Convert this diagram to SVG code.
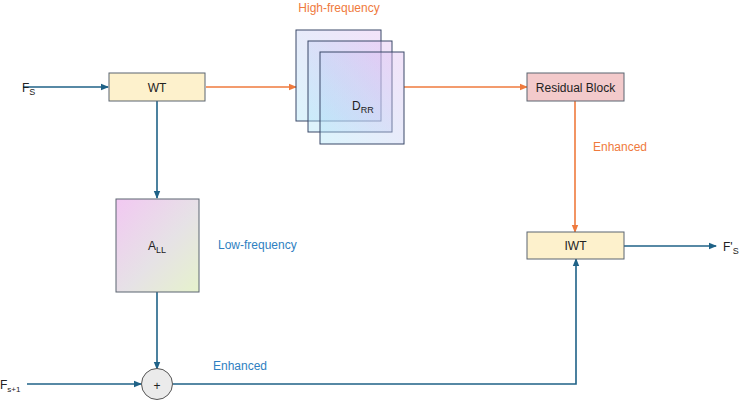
<svg xmlns="http://www.w3.org/2000/svg" width="740" height="403" viewBox="0 0 740 403">
<defs>
<style>
text{font-family:"Liberation Sans",Arial,sans-serif;font-size:12px;fill:#222}
.box{stroke:#5b6570;stroke-width:1}
.yel{fill:#fdf1cc}
.blue{stroke:#1f6287;stroke-width:1.6;fill:none}
.orange{stroke:#ef7a3d;stroke-width:1.6;fill:none}
.lo{fill:#2f7fc1}
.lor{fill:#ef7a3d}
.sq{stroke:#3a4868;stroke-width:1;fill:url(#gD)}
</style>
<linearGradient id="gD" x1="0" y1="1" x2="1" y2="0">
<stop offset="0" stop-color="#a8e4f8" stop-opacity="0.4"/>
<stop offset="1" stop-color="#e0b8f0" stop-opacity="0.4"/>
</linearGradient>
<linearGradient id="gA" x1="0" y1="0" x2="1" y2="1">
<stop offset="0" stop-color="#f2c8f2"/>
<stop offset="0.55" stop-color="#e6e2e6"/>
<stop offset="1" stop-color="#e6f2cc"/>
</linearGradient>
<marker id="ab" markerWidth="8" markerHeight="8" refX="7" refY="4" orient="auto" markerUnits="userSpaceOnUse">
<path d="M0,0.8 L8,4 L0,7.2 Z" fill="#1f6287"/>
</marker>
<marker id="ao" markerWidth="8" markerHeight="8" refX="7" refY="4" orient="auto" markerUnits="userSpaceOnUse">
<path d="M0,0.8 L8,4 L0,7.2 Z" fill="#ef7a3d"/>
</marker>
</defs>
<rect width="740" height="403" fill="#fff"/>
<g id="connectors">
<path class="blue" d="M23,87 H108" marker-end="url(#ab)"/>
<path class="orange" d="M206,87 H296" marker-end="url(#ao)"/>
<path class="orange" d="M404,87 H527" marker-end="url(#ao)"/>
<path class="orange" d="M575,101 V232" marker-end="url(#ao)"/>
<path class="blue" d="M157,101 V198" marker-end="url(#ab)"/>
<path class="blue" d="M157,292 V369" marker-end="url(#ab)"/>
<path class="blue" d="M27,384 H141" marker-end="url(#ab)"/>
<path class="blue" d="M173,384 H576 V259" marker-end="url(#ab)"/>
<path class="blue" d="M624,246 H716" marker-end="url(#ab)"/>
</g>
<g id="label-fs"><text x="22" y="92">F<tspan font-size="9" dy="3">S</tspan></text></g>
<g id="label-fs1"><text x="0" y="389">F<tspan font-size="8" dy="3">s+1</tspan></text></g>
<g id="label-fsp"><text x="723" y="251">F'<tspan font-size="9" dy="3">S</tspan></text></g>
<g id="wt"><rect class="box yel" x="109" y="73" width="96" height="28"/><text x="157" y="91.5" text-anchor="middle">WT</text></g>
<g id="highfreq"><text class="lor" x="339" y="12" text-anchor="middle" font-size="11.5">High-frequency</text></g>
<g id="drr">
<rect class="sq" x="296" y="30" width="85" height="91"/>
<rect class="sq" x="308" y="41" width="84" height="91"/>
<rect class="sq" x="320" y="52" width="84" height="92"/>
<text x="352" y="110" font-size="12.5">D<tspan font-size="9" dy="3">RR</tspan></text>
</g>
<g id="residual"><rect class="box" fill="#f3cacb" x="527" y="73" width="97" height="28"/><text x="575.5" y="91.5" text-anchor="middle">Residual Block</text></g>
<g id="enh-o"><text class="lor" x="593" y="151">Enhanced</text></g>
<g id="iwt"><rect class="box yel" x="527" y="232" width="97" height="27"/><text x="575.5" y="250" text-anchor="middle">IWT</text></g>
<g id="all"><rect class="box" fill="url(#gA)" x="116" y="199" width="83" height="93"/><text x="148" y="250" font-size="12.5">A<tspan font-size="9" dy="3">LL</tspan></text></g>
<g id="lowfreq"><text class="lo" x="218" y="249">Low-frequency</text></g>
<g id="plus"><circle cx="157" cy="384" r="15.5" fill="#ebebeb" stroke="#555" stroke-width="1"/><text x="157" y="390" text-anchor="middle" font-size="18">+</text></g>
<g id="enh-b"><text class="lo" x="213" y="370">Enhanced</text></g>
</svg>
